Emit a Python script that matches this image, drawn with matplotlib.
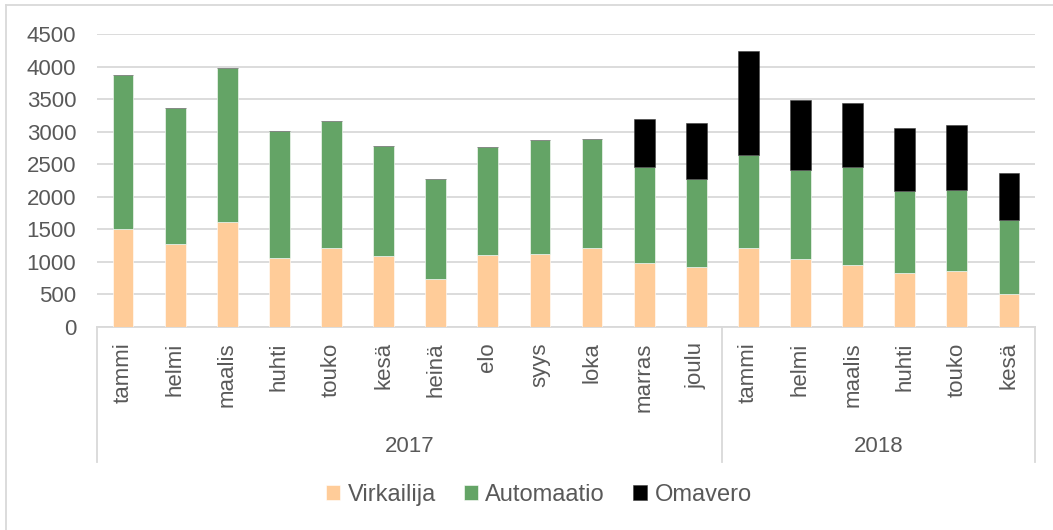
import matplotlib
matplotlib.use("Agg")
import matplotlib.pyplot as plt
import matplotlib.transforms as mtransforms
from matplotlib.lines import Line2D
import numpy as np

months = ["tammi", "helmi", "maalis", "huhti", "touko", "kesä", "heinä", "elo",
          "syys", "loka", "marras", "joulu",
          "tammi", "helmi", "maalis", "huhti", "touko", "kesä"]
years = ["2017", "2018"]
year_sizes = [12, 6]

virkailija = [1500, 1280, 1615, 1060, 1210, 1085, 735, 1100, 1125, 1210, 980, 925,
              1210, 1045, 950, 825, 860, 500]
automaatio = [2370, 2080, 2365, 1955, 1955, 1690, 1545, 1665, 1750, 1670, 1470, 1355,
              1435, 1360, 1500, 1265, 1240, 1145]
omavero = [0, 0, 0, 0, 0, 0, 0, 0, 0, 0, 740, 860,
           1595, 1075, 985, 970, 995, 715]

series_names = ["Virkailija", "Automaatio", "Omavero"]
colors = ["#FFCC99", "#64A466", "#000000"]

TEXT = "#595959"
GRID = "#D9D9D9"
FS = 16

plt.rcParams["font.family"] = ["Liberation Sans", "DejaVu Sans"]

fig = plt.figure(figsize=(10.53, 5.30), dpi=100)
W, H = 1053, 530
ax = fig.add_axes([97 / W, 1 - 327 / H, (1035 - 97) / W, (327 - 34) / H])

x = np.arange(len(months))
bottom = np.zeros(len(months))
for name, vals, col in zip(series_names, [virkailija, automaatio, omavero], colors):
    vals = np.array(vals, dtype=float)
    ax.bar(x, vals, width=0.4, bottom=bottom, color=col, label=name,
           edgecolor="white" if col != "#000000" else "#404040", linewidth=0.4,
           zorder=3)
    bottom += vals

ax.set_xlim(-0.5, len(months) - 0.5)
ax.set_ylim(0, 4500)
ax.set_yticks(np.arange(0, 4501, 500))
ax.yaxis.grid(True, color=GRID, linewidth=1.3, zorder=0)
ax.tick_params(axis="y", length=0, pad=15, labelsize=FS, labelcolor=TEXT)
ax.set_xticks(x)
ax.set_xticklabels(months, rotation=90, fontsize=FS, color=TEXT, va="top")
ax.tick_params(axis="x", length=0, pad=11)

for side in ["top", "right", "left"]:
    ax.spines[side].set_visible(False)
ax.spines["bottom"].set_color(GRID)
ax.spines["bottom"].set_linewidth(1.3)

# year group row
trans = mtransforms.blended_transform_factory(ax.transData, ax.transAxes)
ax_h = 327 - 34
sep_bottom = -(461.7 - 327) / ax_h
year_y = -(446.7 - 327) / ax_h
edges = np.concatenate([[0], np.cumsum(year_sizes)]) - 0.5
for e in edges:
    ax.plot([e, e], [0, sep_bottom], transform=trans, color=GRID, linewidth=1.3,
            clip_on=False)
for i, yr in enumerate(years):
    ax.text((edges[i] + edges[i + 1]) / 2, year_y, yr, transform=trans,
            ha="center", va="center", fontsize=FS, color=TEXT)

fig.legend(loc="center", bbox_to_anchor=(539 / W, 1 - 495 / H), ncol=3,
           frameon=False, fontsize=17, labelcolor=TEXT, handlelength=0.6,
           handleheight=0.6, handletextpad=0.3, columnspacing=1.2)

# outer chart border (only top and left edges are inside the picture)
fig.add_artist(Line2D([6 / W, 6 / W], [0, 1 - 5 / H], color=GRID, linewidth=1.3))
fig.add_artist(Line2D([6 / W, 1], [1 - 5 / H, 1 - 5 / H], color=GRID, linewidth=1.3))

fig.savefig("out.png", dpi=100)
